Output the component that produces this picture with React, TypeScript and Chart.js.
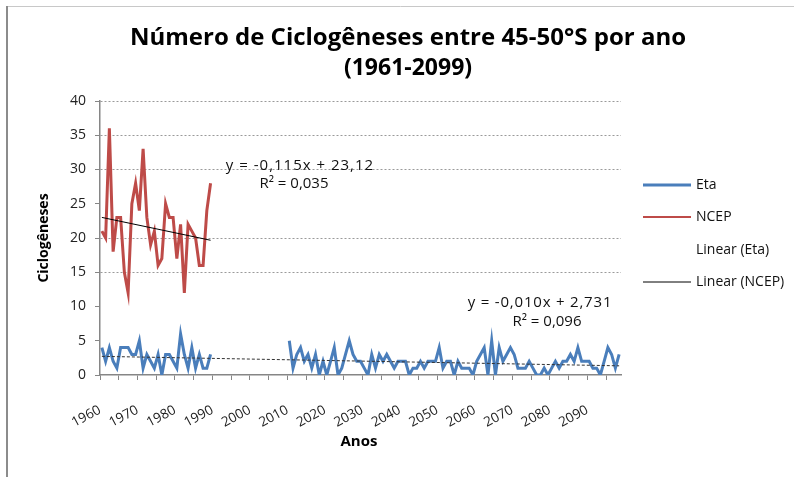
import { useEffect, useRef } from "react";
import { Chart, registerables } from "chart.js";

Chart.register(...registerables);

// ---------- data ----------
const TITLE_LINES = ["Número de Ciclogêneses entre 45-50°S por ano", "(1961-2099)"];
const Y_TITLE = "Ciclogêneses";
const X_TITLE = "Anos";

const NCEP_START_YEAR = 1961;
const NCEP_VALUES = [21, 20, 36, 18, 23, 23, 15, 12, 25, 28, 24, 33, 23, 19, 21, 16, 17, 25, 23, 23, 17, 22, 12, 22, 21, 20, 16, 16, 24, 28];

const ETA_START_YEAR_1 = 1961;
const ETA_VALUES_1 = [4, 2, 4, 2, 1, 4, 4, 4, 3, 3, 5, 1, 3, 2, 1, 3, 0, 3, 3, 2, 1, 6, 3, 1, 4, 1, 3, 1, 1, 3];

const ETA_START_YEAR_2 = 2011;
const ETA_VALUES_2 = [
  5, 1, 3, 4, 2, 3, 1, 3, 0, 2, 0, 2, 4, 0, 1, 3, 5, 3, 2, 2, 1, 0, 3, 1, 3, 2, 3, 2, 1, 2,
  2, 2, 0, 1, 1, 2, 1, 2, 2, 2, 4, 1, 2, 2, 0, 2, 1, 1, 1, 0, 2, 3, 4, 0, 5, 0, 4, 2, 3, 4,
  3, 1, 1, 1, 2, 1, 0, 0, 1, 0, 1, 2, 1, 2, 2, 3, 2, 4, 2, 2, 2, 1, 1, 0, 2, 4, 3, 1, 3,
];

// trend lines (Excel "Linear" trendlines, x = 1..n from first year)
const NCEP_TREND_SLOPE = -0.115;
const NCEP_TREND_INTERCEPT = 23.12;
const NCEP_TREND_YEARS = [1961, 1990];
const ETA_TREND_SLOPE = -0.01;
const ETA_TREND_INTERCEPT = 2.731;
const ETA_TREND_YEARS = [1961, 2099];

const NCEP_EQ_TEXT = ["y = -0,115x + 23,12", "R² = 0,035"];
const ETA_EQ_TEXT = ["y = -0,010x + 2,731", "R² = 0,096"];

const LEGEND_LABELS = ["Eta", "NCEP", "Linear (Eta)", "Linear (NCEP)"];

const X_LABEL_YEARS = [1960, 1970, 1980, 1990, 2000, 2010, 2020, 2030, 2040, 2050, 2060, 2070, 2080, 2090];
const Y_TICK_VALUES = [0, 5, 10, 15, 20, 25, 30, 35, 40];
const Y_GRID_SHOWN = [15, 20, 30, 35, 40];

// ---------- style ----------
const ETA_COLOR = "#4a7ebb";
const NCEP_COLOR = "#be4b48";
const AXIS_COLOR = "#868686";
const FONT = "'Open Sans', 'Liberation Sans', sans-serif";

function seriesPoints(start: number, values: number[]) {
  return values.map((v, i) => ({ x: start + i, y: v }));
}

function trendPoints(years: number[], slope: number, intercept: number, firstYear: number) {
  return years.map((yr) => ({ x: yr, y: intercept + slope * (yr - firstYear + 1) }));
}

const textPlugin = {
  id: "excelTexts",
  beforeDraw(chart: any) {
    const ctx = chart.ctx;
    ctx.save();
    ctx.fillStyle = "#ffffff";
    ctx.fillRect(0, 0, chart.width, chart.height);
    ctx.restore();
  },
  afterDraw(chart: any) {
    const ctx = chart.ctx;
    const area = chart.chartArea;
    ctx.save();
    // frame
    ctx.strokeStyle = "#c8c8c8";
    ctx.lineWidth = 1;
    ctx.beginPath();
    ctx.moveTo(7, 6.5);
    ctx.lineTo(chart.width, 6.5);
    ctx.stroke();
    ctx.strokeStyle = "#8c8c8c";
    ctx.lineWidth = 2;
    ctx.beginPath();
    ctx.moveTo(7, 6);
    ctx.lineTo(7, chart.height);
    ctx.stroke();

    // title
    ctx.fillStyle = "#000";
    ctx.textAlign = "center";
    ctx.textBaseline = "middle";
    ctx.font = `bold 24px ${FONT}`;
    ctx.fillText(TITLE_LINES[0], 408, 38);
    ctx.font = `bold 23px ${FONT}`;
    ctx.fillText(TITLE_LINES[1], 408, 68);

    // axis titles
    ctx.font = `bold 15px ${FONT}`;
    ctx.fillText(X_TITLE, 359, 442);
    ctx.save();
    ctx.font = `bold 14px ${FONT}`;
    ctx.translate(44, (area.top + area.bottom) / 2);
    ctx.rotate(-Math.PI / 2);
    ctx.fillText(Y_TITLE, 0, 0);
    ctx.restore();

    // equations
    ctx.fillStyle = "#111";
    ctx.font = `15px ${FONT}`;
    ctx.letterSpacing = "1px";
    ctx.fillText(NCEP_EQ_TEXT[0], 300, 166);
    ctx.letterSpacing = "0.8px";
    ctx.fillText(ETA_EQ_TEXT[0], 540, 303);
    ctx.letterSpacing = "0px";
    ctx.fillText(NCEP_EQ_TEXT[1], 294, 184);
    ctx.fillText(ETA_EQ_TEXT[1], 547, 322);

    // legend
    const lx0 = 643;
    const lx1 = 691;
    const rows = [185, 217, 250, 282];
    const styles = [
      { color: ETA_COLOR, width: 3 },
      { color: NCEP_COLOR, width: 2 },
      null,
      { color: "#000", width: 1 },
    ];
    ctx.textAlign = "left";
    ctx.font = `14px ${FONT}`;
    LEGEND_LABELS.forEach((lab, i) => {
      const st = styles[i];
      if (st) {
        ctx.strokeStyle = st.color;
        ctx.lineWidth = st.width;
        ctx.beginPath();
        ctx.moveTo(lx0, rows[i]);
        ctx.lineTo(lx1, rows[i]);
        ctx.stroke();
      }
      ctx.fillStyle = "#111";
      ctx.fillText(lab, 696, rows[i]);
    });
    ctx.restore();
  },
};

export default function App() {
  const canvasRef = useRef<HTMLCanvasElement | null>(null);

  useEffect(() => {
    if (!canvasRef.current) return;
    const tickValues: number[] = [];
    X_LABEL_YEARS.forEach((yr) => {
      tickValues.push(yr + 0.5, yr + 5.5);
    });

    const lineBase = { pointRadius: 0, pointHoverRadius: 0, fill: false, tension: 0 };

    const chart = new Chart(canvasRef.current, {
      type: "line",
      data: {
        datasets: [
          {
            ...lineBase,
            label: "Linear (NCEP)",
            data: trendPoints(NCEP_TREND_YEARS, NCEP_TREND_SLOPE, NCEP_TREND_INTERCEPT, NCEP_START_YEAR),
            borderColor: "#000",
            borderWidth: 1,
          },
          {
            ...lineBase,
            label: "Linear (Eta)",
            data: trendPoints(ETA_TREND_YEARS, ETA_TREND_SLOPE, ETA_TREND_INTERCEPT, ETA_START_YEAR_1),
            borderColor: "#333",
            borderWidth: 1,
            borderDash: [3, 2],
          },
          {
            ...lineBase,
            label: "NCEP",
            data: seriesPoints(NCEP_START_YEAR, NCEP_VALUES),
            borderColor: NCEP_COLOR,
            borderWidth: 3,
          },
          {
            ...lineBase,
            label: "Eta",
            data: seriesPoints(ETA_START_YEAR_1, ETA_VALUES_1),
            borderColor: ETA_COLOR,
            borderWidth: 3,
          },
          {
            ...lineBase,
            label: "Eta ",
            data: seriesPoints(ETA_START_YEAR_2, ETA_VALUES_2),
            borderColor: ETA_COLOR,
            borderWidth: 3,
          },
        ],
      },
      options: {
        animation: false,
        responsive: false,
        devicePixelRatio: 1,
        events: [],
        layout: { padding: { left: 8, top: 101, right: 173, bottom: 0 } },
        plugins: {
          legend: { display: false },
          title: { display: false },
          tooltip: { enabled: false },
        },
        scales: {
          x: {
            type: "linear",
            min: 1960.5,
            max: 2099.5,
            afterBuildTicks: (scale: any) => {
              scale.ticks = tickValues.map((v) => ({ value: v }));
            },
            afterFit: (scale: any) => {
              scale.height = 102;
            },
            ticks: {
              autoSkip: false,
              minRotation: 28,
              maxRotation: 28,
              padding: 22,
              color: "#222",
              font: { family: FONT, size: 13.5 },
              callback: (value: any) => {
                const yr = Number(value) - 0.5;
                return X_LABEL_YEARS.includes(yr) ? String(yr) : "";
              },
            },
            grid: {
              drawOnChartArea: false,
              drawTicks: true,
              tickLength: 5,
              tickColor: AXIS_COLOR,
              tickWidth: 1,
            },
            border: { display: true, color: AXIS_COLOR, width: 1.5 },
          },
          y: {
            type: "linear",
            min: 0,
            max: 40,
            afterBuildTicks: (scale: any) => {
              scale.ticks = Y_TICK_VALUES.map((v) => ({ value: v }));
            },
            afterFit: (scale: any) => {
              scale.width = 92;
            },
            ticks: {
              padding: 9,
              color: "#222",
              font: { family: FONT, size: 14 },
              callback: (value: any) => String(value),
            },
            grid: {
              drawOnChartArea: true,
              drawTicks: true,
              tickLength: 5,
              tickColor: AXIS_COLOR,
              tickWidth: 1,
              lineWidth: 1,
              color: (c: any) =>
                c.tick && Y_GRID_SHOWN.includes(c.tick.value) ? "#9a9a9a" : "rgba(0,0,0,0)",
            },
            border: { display: true, color: AXIS_COLOR, width: 1.5, dash: [2, 2] },
          },
        },
      },
      plugins: [textPlugin],
    } as any);

    return () => chart.destroy();
  }, []);

  return (
    <div style={{ position: "fixed", left: 0, top: 0, width: 794, height: 477, background: "#fff" }}>
      <canvas ref={canvasRef} width={794} height={477} style={{ display: "block" }} />
    </div>
  );
}
